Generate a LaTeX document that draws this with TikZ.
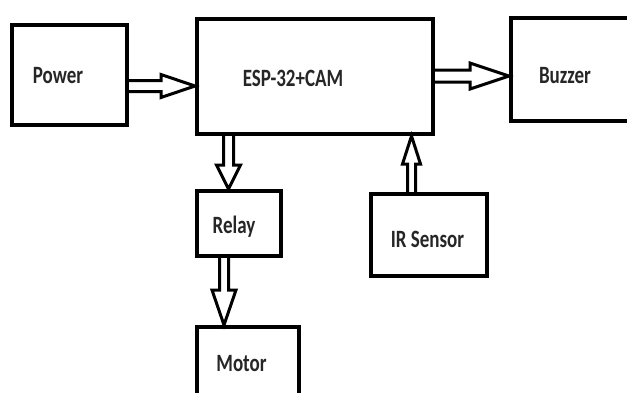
\documentclass[tikz,border=0pt]{standalone}
\usepackage{fontspec}
\setmainfont{Carlito}
\usetikzlibrary{calc}
\tikzset{
  boxnode/.style={draw=black, line width=4pt, minimum width=#1, inner sep=0pt},
  lbl/.style={anchor=base, inner sep=0pt, text=black!85, font=\fontsize{19}{19}\selectfont\bfseries},
  blockarr/.style={draw=black, line width=3pt, line join=miter, miter limit=10},
}
\newcommand\lbltxt[1]{\scalebox{1}[1.31]{#1}}
% #1 start coordinate, #2 end coordinate (tip), #3 shaft half width, #4 head half width, #5 head length
\newcommand\blockarrow[5]{%
  \path (#1) coordinate (bas) (#2) coordinate (bae);
  \path ($(bae)!#5pt!(bas)$) coordinate (bac);
  \draw[blockarr] ($(bas)!#3pt!90:(bae)$) -- ($(bac)!#3pt!90:(bae)$) -- ($(bac)!#4pt!90:(bae)$) -- (bae)
     -- ($(bac)!#4pt!-90:(bae)$) -- ($(bac)!#3pt!-90:(bae)$) -- ($(bas)!#3pt!-90:(bae)$);
}
\begin{document}
\begin{tikzpicture}[x=1pt, y=-1pt]
\useasboundingbox (0,0) rectangle (627,392);
\clip (0,0) rectangle (627,392);
\fill[white] (0,0) rectangle (627,392);
% boxes (centre lines)
\node[boxnode=115pt, minimum height=100pt] (pw) at (69.5,75) {};
\node[boxnode=236pt, minimum height=115pt] (esp) at (315,76.5) {};
\node[boxnode=140pt, minimum height=103pt] (bz) at (581,69.5) {};
\node[boxnode=84pt, minimum height=65pt] (rl) at (239,223.5) {};
\node[boxnode=102pt, minimum height=100pt] (mt) at (248,377) {};
\node[boxnode=116pt, minimum height=82pt] (ir) at (429,235) {};
% labels
\node[lbl] (tpw) at (58,83) {\lbltxt{Power}};
\node[lbl] (tesp) at (293,86.5) {\lbltxt{ESP-32+CAM}};
\node[lbl] (tbz) at (565,83) {\lbltxt{Buzzer}};
\node[lbl] (trl) at (234,233) {\lbltxt{Relay}};
\node[lbl] (tir) at (427.5,247) {\lbltxt{IR Sensor}};
\node[lbl] (tmt) at (241.5,371) {\lbltxt{Motor}};
% connectors
\coordinate (a1s) at ($(pw.east)+(0,11)$);
\coordinate (a1e) at (esp.west |- a1s);
\blockarrow{a1s}{a1e}{5.5}{11.5}{34}
\coordinate (a2s) at ($(esp.east)+(0,-0.5)$);
\coordinate (a2e) at (bz.west |- a2s);
\blockarrow{a2s}{a2e}{6}{13}{39}
\coordinate (a3e) at ($(rl.north)+(-10.5,0)$);
\coordinate (a3s) at (esp.south -| a3e);
\blockarrow{a3s}{a3e}{5}{12}{24}
\coordinate (a4s) at ($(ir.north)+(-17.5,0)$);
\coordinate (a4e) at (esp.south -| a4s);
\blockarrow{a4s}{a4e}{4}{9}{28}
\coordinate (a5s) at ($(rl.south)+(-15,0)$);
\coordinate (a5e) at (mt.north -| a5s);
\blockarrow{a5s}{a5e}{4.5}{12}{35}
\end{tikzpicture}
\end{document}
